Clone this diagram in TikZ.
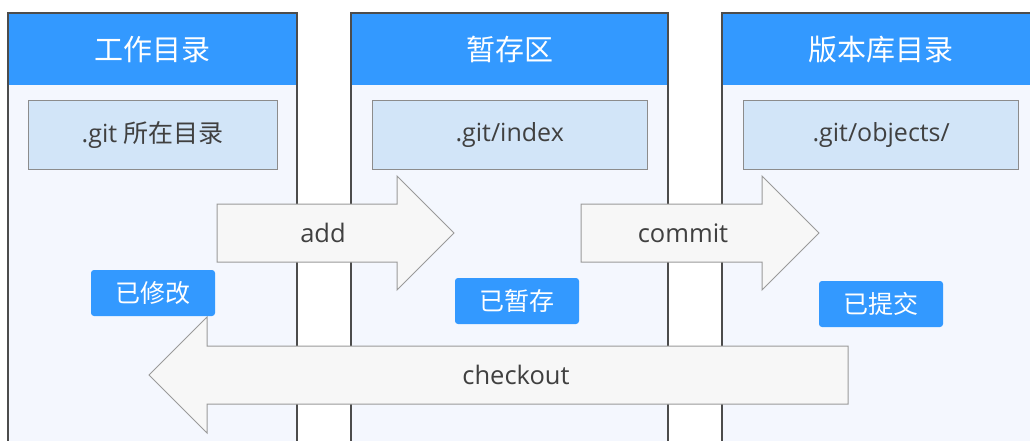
\documentclass[tikz,border=0pt]{standalone}
\usepackage{fontspec}
\setmainfont{Open Sans}
\newfontfamily\cjk{Noto Sans CJK SC}
\usetikzlibrary{positioning}

\definecolor{hdrblue}{HTML}{3399FF}
\definecolor{colbg}{HTML}{F4F7FE}
\definecolor{dirbg}{HTML}{D2E5F8}
\definecolor{dirline}{HTML}{8C8C8C}
\definecolor{arrbg}{HTML}{F7F7F7}
\definecolor{arrline}{HTML}{9A9A9A}
\definecolor{txt}{HTML}{404040}

\tikzset{
  colframe/.style={draw=black!70,line width=1.2pt},
  header/.style={fill=hdrblue,text=white,inner sep=0pt,minimum height=72pt,
                 font=\cjk\fontsize{29}{31}\selectfont},
  dirbox/.style={draw=dirline,fill=dirbg,line width=1pt,text=txt,inner sep=0pt,
                 minimum height=69pt,font=\fontsize{25}{27}\selectfont},
  state/.style={fill=hdrblue,text=white,rounded corners=3pt,inner sep=0pt,
                minimum width=124pt,minimum height=46pt,
                font=\cjk\fontsize{25}{27}\selectfont},
  flow/.style={draw=arrline,fill=arrbg,line width=1pt},
  flowlabel/.style={text=txt,inner sep=0pt,font=\fontsize{25.5}{27}\selectfont},
}

\begin{document}
\begin{tikzpicture}[x=1pt,y=-1pt]

  \clip (0,0) rectangle (1030,441) ;

  % columns
  \fill [colbg] (8,13) rectangle (297,450) ;
  \fill [colbg] (351,13) rectangle (668,450) ;
  \fill [colbg] (722,13) rectangle (1040,450) ;

  \node [header,anchor=north west,minimum width=289pt] (hWork)  at (8,13)   {工作目录} ;
  \node [header,anchor=north west,minimum width=317pt] (hStage) at (351,13) {暂存区} ;
  \node [header,anchor=north west,minimum width=318pt] (hRepo)  at (722,13) {版本库目录} ;

  \draw [colframe] (8,450) -- (8,13) -- (297,13) -- (297,450) ;
  \draw [colframe] (351,450) -- (351,13) -- (668,13) -- (668,450) ;
  \draw [colframe] (722,450) -- (722,13) -- (1040,13) ;

  \node [dirbox,minimum width=249pt,below=15pt of hWork]  (dWork)  {.git {\cjk 所在目录}} ;
  \node [dirbox,minimum width=275pt,below=15pt of hStage] (dStage) {.git/index} ;
  \node [dirbox,minimum width=275pt,below=15pt of hRepo]  (dRepo)  {.git/objects/} ;

  % flows
  \draw [flow] (217,204) -- (397,204) -- (397,176) -- (454,233)
               -- (397,290) -- (397,262) -- (217,262) -- cycle ;
  \draw [flow] (581,204) -- (762,204) -- (762,176) -- (819,233)
               -- (762,290) -- (762,262) -- (581,262) -- cycle ;
  \draw [flow] (848,346) -- (207,346) -- (207,317) -- (149,375)
               -- (207,433) -- (207,404) -- (848,404) -- cycle ;

  \node [flowlabel] (lAdd)      at (323,233) {add} ;
  \node [flowlabel] (lCommit)   at (683,233) {commit} ;
  \node [flowlabel] (lCheckout) at (516,375) {checkout} ;

  % states
  \node [state] (sWork)  at (153,293) {已修改} ;
  \node [state] (sStage) at (517,301) {已暂存} ;
  \node [state] (sRepo)  at (881,304) {已提交} ;

\end{tikzpicture}
\end{document}
